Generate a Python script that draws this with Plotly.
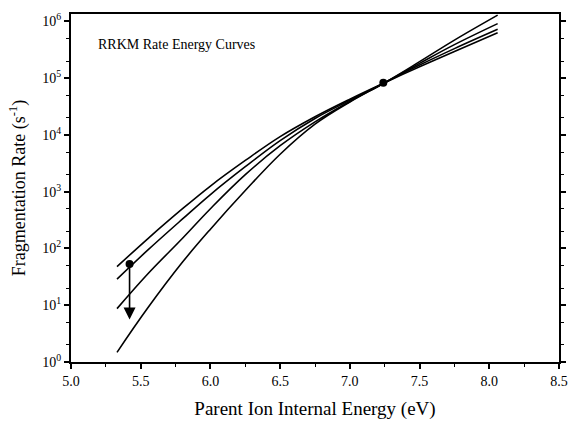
import numpy as np
import plotly.graph_objects as go

# Parent ion internal energy (eV)
energy = [5.33, 5.55, 5.80, 6.00, 6.25, 6.50, 6.75, 7.00, 7.25, 7.50, 7.75, 8.06]

# log10 of fragmentation rate (s^-1) for the four RRKM curves
log_rate_a = [1.68, 2.17, 2.70, 3.10, 3.55, 3.97, 4.32, 4.63, 4.92, 5.20, 5.47, 5.80]
log_rate_b = [1.46, 1.97, 2.52, 2.95, 3.44, 3.90, 4.29, 4.61, 4.92, 5.23, 5.52, 5.86]
log_rate_c = [0.94, 1.55, 2.18, 2.70, 3.30, 3.81, 4.23, 4.59, 4.92, 5.26, 5.59, 5.96]
log_rate_d = [0.17, 0.95, 1.76, 2.34, 3.02, 3.66, 4.19, 4.58, 4.92, 5.29, 5.67, 6.11]

# Marked points
cross_point = (7.24, 8.3e4)
arrow_start = (5.42, 53.0)
arrow_end = (5.42, 5.6)

y_tick_vals = [1, 10, 100, 1e3, 1e4, 1e5, 1e6]
y_tick_text = ["10<sup>0</sup>", "10<sup>1</sup>", "10<sup>2</sup>", "10<sup>3</sup>",
               "10<sup>4</sup>", "10<sup>5</sup>", "10<sup>6</sup>"]
x_tick_vals = [5.0, 5.5, 6.0, 6.5, 7.0, 7.5, 8.0, 8.5]
x_tick_text = ["5.0", "5.5", "6.0", "6.5", "7.0", "7.5", "8.0", "8.5"]

FONT = "Liberation Serif, Times New Roman, serif"

fig = go.Figure()
for series in [log_rate_a, log_rate_b, log_rate_c, log_rate_d]:
    fig.add_trace(go.Scatter(
        x=energy, y=[10 ** v for v in series], mode="lines",
        line=dict(color="black", width=1.6, shape="spline", smoothing=1.1),
        showlegend=False, hoverinfo="skip"))

fig.add_trace(go.Scatter(
    x=[cross_point[0], arrow_start[0]], y=[cross_point[1], arrow_start[1]],
    mode="markers", marker=dict(color="black", size=8),
    showlegend=False, hoverinfo="skip"))

fig.add_annotation(
    x=arrow_end[0], y=np.log10(arrow_end[1]),
    ax=arrow_start[0], ay=np.log10(arrow_start[1]),
    xref="x", yref="y", axref="x", ayref="y",
    showarrow=True, arrowhead=2, arrowsize=1.5, arrowwidth=1.6,
    arrowcolor="black", text="")

fig.add_annotation(
    x=0.052, y=0.913, xref="paper", yref="paper", xanchor="left", yanchor="middle",
    text="RRKM Rate Energy Curves", showarrow=False,
    font=dict(family=FONT, size=14, color="black"))

fig.update_xaxes(
    range=[5.0, 8.5], tickvals=x_tick_vals, ticktext=x_tick_text,
    ticks="outside", ticklen=5, tickwidth=1.5, tickcolor="black",
    minor=dict(dtick=0.25, ticks="outside", ticklen=3, tickcolor="black", tickwidth=1.2),
    showline=True, linecolor="black", linewidth=2, mirror=True,
    showgrid=False, zeroline=False,
    tickfont=dict(family=FONT, size=14, color="black"),
    title=dict(text="Parent Ion Internal Energy (eV)",
               font=dict(family=FONT, size=19, color="black"), standoff=14))

fig.update_yaxes(
    type="log", range=[0, 6.13], tickvals=y_tick_vals, ticktext=y_tick_text,
    ticks="outside", ticklen=5, tickwidth=1.5, tickcolor="black",
    minor=dict(ticks="outside", ticklen=3, tickcolor="black", tickwidth=1,
               showgrid=False),
    showline=True, linecolor="black", linewidth=2, mirror="ticks",
    showgrid=False, zeroline=False,
    tickfont=dict(family=FONT, size=14, color="black"),
    title=dict(text="Fragmentation Rate (s<sup>-1</sup>)",
               font=dict(family=FONT, size=18, color="black"), standoff=12))

fig.update_layout(
    width=578, height=426,
    margin=dict(l=71, r=10, t=14, b=54),
    plot_bgcolor="white", paper_bgcolor="white",
)

fig.write_html("out.html", config={"displayModeBar": False},
               post_script="document.body.style.margin='0px';")
